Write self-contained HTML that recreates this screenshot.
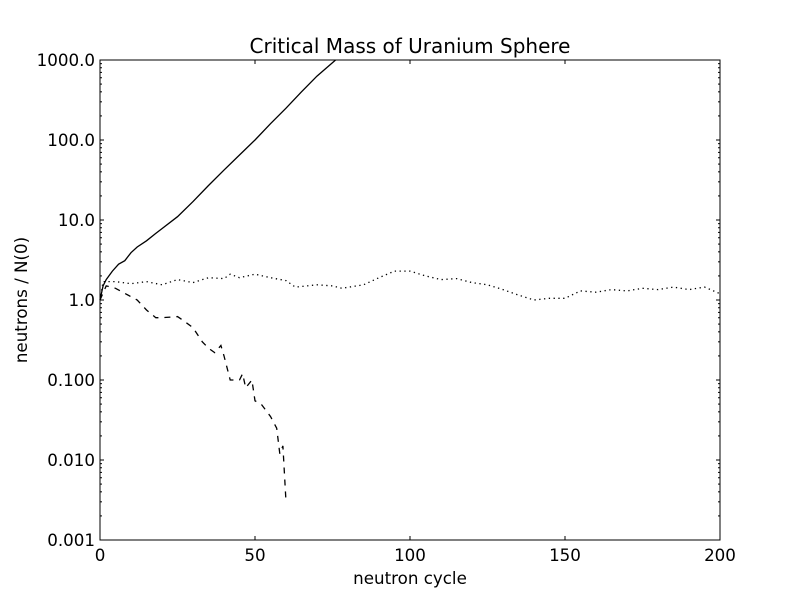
<!DOCTYPE html>
<html><head><meta charset="utf-8"><style>
body{margin:0;background:#fff;}
svg text{font-family:"DejaVu Sans","Liberation Sans",sans-serif;fill:#000;}
</style></head><body>
<svg id="chart" width="800" height="600" xmlns="http://www.w3.org/2000/svg">
<rect width="800" height="600" fill="#fff"/>
<text x="410" y="53" font-size="20" text-anchor="middle">Critical Mass of Uranium Sphere</text>
<text x="410" y="584" font-size="16.7" text-anchor="middle">neutron cycle</text>
<text transform="translate(27,300) rotate(-90)" font-size="16.7" text-anchor="middle">neutrons / N(0)</text>
<g id="ticks"></g>
<g id="series"></g>
<rect x="100" y="60" width="620" height="480" fill="none" stroke="#000" stroke-width="1"/>
</svg>
<script>
const xTicks=[0,50,100,150,200];
const yTicks=[0.001,0.01,0.1,1,10,100,1000];
const yTickLabels=["0.001","0.010","0.100","1.0","10.0","100.0","1000.0"];
const solidX=[0,1,2,4,6,8,10,12,15,18,20,25,30,35,40,45,50,55,60,65,70,76];
const solidY=[1,1.5,1.8,2.3,2.8,3.1,3.9,4.6,5.5,6.8,7.8,11,17,27,42,65,100,160,250,400,630,1000];
const dottedX=[0,1,5,10,15,20,25,30,35,40,42,45,50,55,60,63,70,75,78,85,90,95,100,105,110,115,120,125,130,135,140,145,150,155,160,165,170,175,180,185,190,195,200];
const dottedY=[1,1.7,1.7,1.6,1.7,1.55,1.8,1.65,1.9,1.85,2.1,1.9,2.1,1.9,1.75,1.45,1.55,1.5,1.4,1.55,1.9,2.3,2.3,2.0,1.8,1.85,1.65,1.55,1.35,1.15,1.0,1.05,1.05,1.3,1.25,1.35,1.3,1.4,1.35,1.45,1.35,1.45,1.2];
const dashedX=[0,2,5,10,12,15,18,20,25,27,30,33,35,37,39,40,42,45,46,47,49,50,52,55,57,58,59,60];
const dashedY=[1,1.5,1.4,1.1,1.0,0.75,0.6,0.6,0.62,0.55,0.45,0.3,0.25,0.22,0.27,0.2,0.1,0.1,0.12,0.08,0.1,0.055,0.05,0.035,0.025,0.012,0.015,0.003];

const X0=100,X1=720,Y0=540,Y1=60;
const sx=v=>X0+(v-0)/(200-0)*(X1-X0);
const sy=v=>Y0-(Math.log10(v)+3)/6*(Y0-Y1);
const NS="http://www.w3.org/2000/svg";
const tg=document.getElementById('ticks'),sg=document.getElementById('series');
function line(g,x1,y1,x2,y2){const l=document.createElementNS(NS,'line');l.setAttribute('x1',x1);l.setAttribute('y1',y1);l.setAttribute('x2',x2);l.setAttribute('y2',y2);l.setAttribute('stroke','#000');g.appendChild(l);return l;}
xTicks.forEach(t=>{const x=sx(t);
 line(tg,x,Y0,x,Y0-4);line(tg,x,Y1,x,Y1+4);
 const tx=document.createElementNS(NS,'text');tx.setAttribute('x',x);tx.setAttribute('y',Y0+21);tx.setAttribute('font-size','16.7');tx.setAttribute('text-anchor','middle');tx.textContent=t;
 
 
 tg.appendChild(tx);});
yTicks.forEach((t,i)=>{const y=sy(t);
 line(tg,X0,y,X0+4,y);line(tg,X1,y,X1-4,y);
 if(i<yTicks.length-1){for(let m=2;m<10;m++){const ym=sy(t*m);line(tg,X0,ym,X0+2,ym);line(tg,X1,ym,X1-2,ym);}}
 const tx=document.createElementNS(NS,'text');tx.setAttribute('x',X0-5);tx.setAttribute('y',y+6);tx.setAttribute('font-size','16.7');tx.setAttribute('text-anchor','end');tx.textContent=yTickLabels[i];
 
 
 tg.appendChild(tx);});
function series(xs,ys,dash,name){
 const d=xs.map((x,i)=>(i?'L':'M')+sx(x).toFixed(1)+','+sy(ys[i]).toFixed(1)).join(' ');
 const p=document.createElementNS(NS,'path');p.setAttribute('d',d);p.setAttribute('fill','none');p.setAttribute('stroke','#000');p.setAttribute('stroke-width','1.3');
 if(dash)p.setAttribute('stroke-dasharray',dash);
 
 
 sg.appendChild(p);}
series(solidX,solidY,null,'supercritical-line');
series(dottedX,dottedY,'1.3,3.5','critical-line');
series(dashedX,dashedY,'6,6','subcritical-line');
</script>
</body></html>
